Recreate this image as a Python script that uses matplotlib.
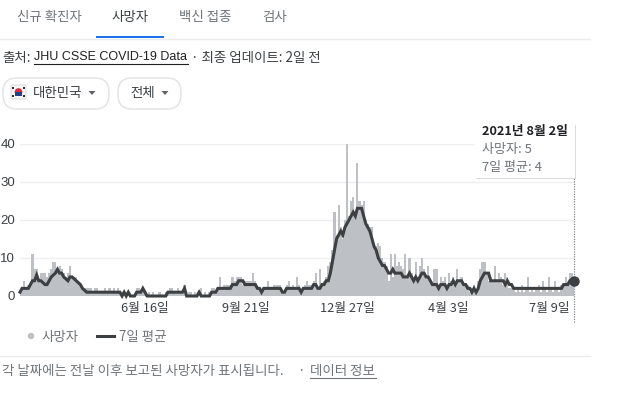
import matplotlib
matplotlib.use('Agg')
import matplotlib.pyplot as plt
import pandas as pd
from matplotlib.patches import Circle, FancyBboxPatch, Polygon, Rectangle

plt.rcParams['font.family'] = ['Noto Sans CJK KR', 'DejaVu Sans']

# values every second day
deaths = [1, 2, 4, 2, 3, 3, 11, 7, 7, 4, 6, 6, 6, 5, 6, 7, 9, 9, 6, 8, 7, 6, 5, 6, 8, 5, 5, 5, 4, 3, 2, 2, 2,
          2, 2, 1, 2, 2, 1, 1, 1, 2, 1, 2, 1, 2, 1, 2, 1,
          1, 1, 0, 1, 0, 0, 0, 2, 2, 1, 2, 1,
          0, 1, 0, 1, 0, 0, 1, 0, 0, 1,
          1, 2, 2, 1, 1, 2, 1, 1, 3, 0, 1, 1, 0, 1, 0, 1, 2,
          0, 1, 0, 1, 2, 2, 1,
          2, 5, 2, 3, 3, 3, 3, 5, 4, 5, 5, 5, 3, 4, 4, 4, 4, 6, 4, 3, 2, 1,
          2, 2, 4, 2, 2, 3, 3, 3, 3, 1, 1, 3, 4, 2, 3, 2, 5, 3, 1, 2, 3, 4, 3, 3, 4, 6, 2, 7, 3, 4, 5, 8,
          9, 12, 22, 16, 24, 18, 15, 20, 40, 21, 25, 26, 22, 35, 25, 24, 25, 20, 19, 18, 18, 14, 13, 14, 13, 10,
          9, 8, 4, 11, 5, 11, 8, 9,
          8, 7, 11, 5, 10, 6, 4, 9, 5, 8, 10, 7, 5, 8, 4, 3, 7, 7, 3, 5, 4, 5, 3, 6, 4, 5, 4, 7, 4, 5, 3, 3, 3, 1,
          2, 3, 1, 4, 7, 9, 9, 6, 4, 5, 4, 8, 4, 6, 5, 3, 6, 5, 2, 2, 2,
          1, 2, 1, 3, 1, 2, 5, 1, 2, 1, 2, 3, 1, 4, 2, 1, 5, 2, 1, 4, 2, 1, 3, 3, 5, 3, 6, 6, 5]
avg7 = [1, 2, 2, 2, 2, 3, 4, 4, 5.5, 4, 4, 3.5, 3, 3, 4, 5, 5.5, 6, 7, 6, 6, 5, 4.5, 4, 5, 5, 4.5, 4, 3.5, 3, 2, 1.5, 1,
        1, 1, 1, 1, 1, 1, 1, 1, 1, 1, 1, 1, 1, 1, 1, 1,
        0, 1, 0, 1, 0, 0, 0, 1, 1, 1, 2, 1,
        0, 0, 0, 0, 0, 0, 0, 0, 0, 0,
        1, 1, 1, 1, 1, 1, 1, 1, 2, 0, 0, 0, 0, 0, 0, 1, 0,
        0, 0, 0, 0, 1, 1, 1,
        2, 2, 2, 2, 2, 2, 2, 3, 3, 3, 4, 4, 4, 3, 3, 3, 3, 3, 3, 2, 2, 1,
        2, 2, 2, 2, 2, 2, 2, 2, 2, 1, 1, 2, 2, 2, 2, 2, 2, 2, 1, 2, 2, 2, 2, 2, 3, 3, 2, 2, 3, 3, 4, 4,
        6, 9, 12, 15, 16, 17, 16, 18, 19, 20, 21, 22, 21, 23, 23, 23, 21, 19, 18, 17, 15, 13, 12, 10, 9, 8,
        8, 7, 6, 6, 7, 6, 6, 6,
        6, 5, 5, 5, 6, 5, 4, 5, 4, 5, 6, 6, 5, 5, 4, 3, 3, 3, 2, 3, 3, 3, 2, 3, 3, 4, 3, 4, 4, 4, 3, 3, 2, 2,
        1, 2, 1, 2, 4, 5, 6, 6, 6, 4, 4, 4, 4, 4, 4, 4, 3, 4, 3, 3, 2,
        2, 2, 2, 2, 2, 2, 2, 2, 2, 2, 2, 2, 2, 2, 2, 2, 2, 2, 2, 2, 2, 2, 2, 3, 3, 3, 4, 4, 4]
dates = pd.date_range(end='2021-08-02', periods=len(deaths), freq='2D')

tick_dates = ['2020-06-16', '2020-09-21', '2020-12-27', '2021-04-03', '2021-07-09']
tick_labels = ['6월 16일', '9월 21일', '12월 27일', '4월 3일', '7월 9일']
y_ticks = [0, 10, 20, 30, 40]

W, H = 630, 396
BAR = '#bdc1c6'
LINE = '#3c4043'
GREY = '#70757a'
DARK = '#202124'

fig = plt.figure(figsize=(W / 100, H / 100), dpi=100)

# chart
ax = fig.add_axes([20 / W, 1 - 296 / H, 554 / W, 152.5 / H])
ax.bar(dates, deaths, width=2.05, color=BAR, linewidth=0)
ax.plot(dates, avg7, color=LINE, linewidth=2.2, solid_joinstyle='miter', clip_on=False)
ax.plot(dates[-1], avg7[-1], 'o', color=LINE, markersize=6.5, clip_on=False, zorder=5)
ax.axvline(dates[-1], ymin=-0.17, ymax=0.78, color='#80868b', linewidth=0.9, linestyle=(0, (1, 1)), clip_on=False)
ax.set_xlim(dates[0], dates[-1])
ax.set_ylim(0, 40)
ax.set_yticks(y_ticks)
ax.set_xticks(pd.to_datetime(tick_dates))
ax.set_xticklabels(tick_labels)
ax.tick_params(length=0, labelsize=9.2, labelcolor='#3c4043')
ax.tick_params(axis='x', pad=4.5)
ax.tick_params(axis='y', pad=3.5)
ax.grid(axis='y', color='#eeeff1', linewidth=1)
ax.set_axisbelow(True)
for s in ax.spines.values():
    s.set_visible(False)
for lab in ax.get_yticklabels():
    lab.set_fontfamily(['Liberation Sans', 'DejaVu Sans'])
    lab.set_fontsize(9.5)

# page furniture, in pixel coordinates
ui = fig.add_axes([0, 0, 1, 1], zorder=10)
ui.set_xlim(0, W)
ui.set_ylim(H, 0)
ui.axis('off')
ui.patch.set_alpha(0)


def label(x, y, s, size=9.7, color=GREY, **kw):
    return ui.text(x, y + 1, s, fontsize=size, color=color, va='center', **kw)


# tabs
label(17, 16, '신규 확진자')
label(112, 16, '사망자', color=LINE)
label(179, 16, '백신 접종')
label(262, 16, '검사')
ui.add_patch(Rectangle((96, 36), 68, 2, color='#1a73e8', linewidth=0))
ui.plot([0, 590], [38.5, 38.5], color='#ebebeb', linewidth=1)

# source line
label(2, 57, '출처:', color=LINE)
label(34, 56.5, 'JHU CSSE COVID-19 Data', size=9, color=DARK, family=['Liberation Sans', 'DejaVu Sans'])
ui.plot([34, 188], [64, 64], color=DARK, linewidth=0.8)
label(191, 57, '· 최종 업데이트: 2일 전', color=LINE)

# pills
for x0, x1 in [(3, 109), (118, 181)]:
    ui.add_patch(FancyBboxPatch((x0 + 14, 78 + 14), x1 - x0 - 28, 3, boxstyle='round,pad=14',
                                fc='white', ec='#dfe1e5', linewidth=1))
label(33, 92, '대한민국', color=LINE)
label(130, 92, '전체', color=LINE)
for cx in (92, 165):
    ui.add_patch(Polygon([(cx - 3.5, 91), (cx + 3.5, 91), (cx, 95)], color='#5f6368', linewidth=0))

# flag
ui.add_patch(FancyBboxPatch((12, 86), 13, 12, boxstyle='round,pad=1', fc='#f4f4f4', ec='#d5d5d5', linewidth=0.6))
ui.add_patch(Circle((18.5, 92), 3.8, color='#d8283c', linewidth=0, zorder=3))
ui.add_patch(Rectangle((14.7, 92), 7.6, 3.8, color='#233f90', linewidth=0, zorder=4))
for fx, fy in [(13, 88), (24, 88), (13, 96), (24, 96)]:
    ui.add_patch(Rectangle((fx - 1.2, fy - 1.2), 2.4, 2.4, color='#333333', linewidth=0, zorder=4))

# tooltip
ui.add_patch(Rectangle((476, 125), 100, 54, color='#dddddd', linewidth=0))
ui.add_patch(Rectangle((475, 123), 100, 55, color='white', linewidth=0))
label(482, 131, '2021년 8월 2일', size=9.2, color=DARK, fontweight='bold')
label(482, 148, '사망자: 5', size=9.4)
label(482, 166, '7일 평균: 4', size=9.4)

# legend
ui.add_patch(Circle((31, 336), 3.2, color=BAR, linewidth=0))
label(41, 336, '사망자')
ui.plot([97, 114], [336, 336], color=LINE, linewidth=2.2)
label(119, 336, '7일 평균')

# footer
ui.plot([0, 590], [355.5, 355.5], color='#ebebeb', linewidth=1)
label(2, 370, '각 날짜에는 전날 이후 보고된 사망자가 표시됩니다.')
label(297, 370, '·')
label(310, 370, '데이터 정보')
ui.plot([310, 376], [378, 378], color=GREY, linewidth=0.8)

fig.savefig('out.png', dpi=100, facecolor='white')
